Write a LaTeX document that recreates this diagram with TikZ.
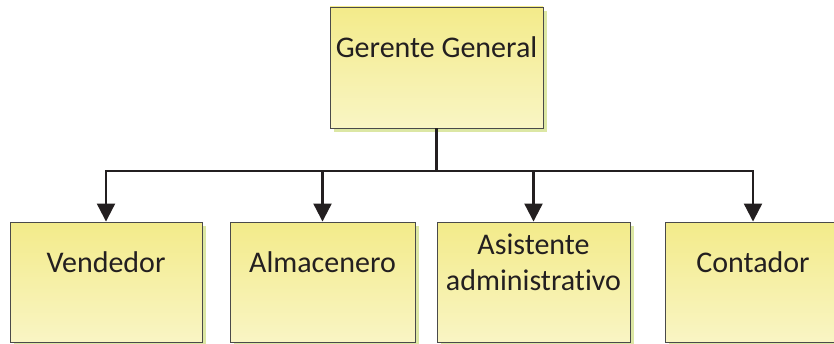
\documentclass[tikz,border=0pt]{standalone}
\usepackage{fontspec}
\setmainfont{Carlito}[Ligatures=NoCommon]
\usetikzlibrary{arrows.meta,shadows}
\definecolor{boxtop}{HTML}{F3EB8A}
\definecolor{boxbot}{HTML}{F9F5C4}
\definecolor{boxedge}{HTML}{4A4A4A}
\definecolor{shade}{HTML}{DCE7A4}
\definecolor{ink}{HTML}{231F20}
\begin{document}
\begin{tikzpicture}[x=1pt,y=1pt,
  orgbox/.style={rectangle, draw=boxedge, line width=0.9pt,
    top color=boxtop, bottom color=boxbot, inner sep=0pt,
    drop shadow={shadow xshift=4pt, shadow yshift=-4pt, fill=shade, opacity=1}},
  lbl/.style={text=ink, font=\fontsize{30}{36}\selectfont, align=center, inner sep=0pt},
  link/.style={draw=ink, line width=2.6pt},
  feed/.style={draw=ink, line width=2.2pt, -{Triangle[width=18pt,length=18pt]}}]
\useasboundingbox (0,0) rectangle (834,343);
\begin{scope}
\clip (0,0) rectangle (834,343);
% boxes
\node[orgbox, minimum width=213pt, minimum height=121pt] (gg) at (436.5,275.5) {};
\node[orgbox, minimum width=192pt, minimum height=120pt] (vend) at (106,61) {};
\node[orgbox, minimum width=185pt, minimum height=120pt] (alm) at (322.5,61) {};
\node[orgbox, minimum width=193pt, minimum height=120pt] (asis) at (533.5,61) {};
\node[orgbox, minimum width=176pt, minimum height=120pt] (cont) at (753,61) {};
% labels
\node[lbl] (tgg) at ([yshift=-41pt]gg.north) {Gerente General};
\node[lbl] (tvend) at ([yshift=-41pt]vend.north) {Vendedor};
\node[lbl] (talm) at ([yshift=-41pt]alm.north) {Almacenero};
\node[lbl] (tasis) at ([yshift=-41pt]asis.north) {Asistente\\administrativo};
\node[lbl] (tcont) at ([yshift=-41pt]cont.north) {Contador};
% connectors
\coordinate (bus) at (436.5,172);
\draw[link] (gg.south) -- (bus);
\draw[feed] (bus) -| (vend.north);
\draw[feed] (bus) -| (alm.north);
\draw[feed] (bus) -| (asis.north);
\draw[feed] (bus) -| (cont.north);
\end{scope}
\end{tikzpicture}
\end{document}
